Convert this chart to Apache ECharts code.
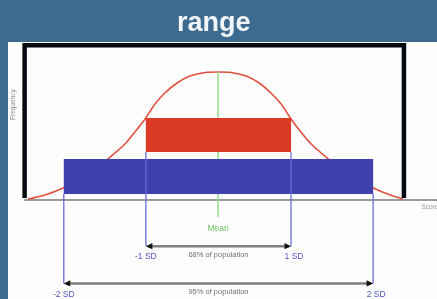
<!DOCTYPE html>
<html>
<head>
<meta charset="utf-8">
<script src="https://cdn.jsdelivr.net/npm/echarts@6/dist/echarts.min.js"></script>
<style>
  html, body { margin: 0; padding: 0; background: #3d6b8f; }
  #chart { width: 437px; height: 299px; }
</style>
</head>
<body>
<div id="chart"></div>
<script>
// bell curve (score 0..100, frequency 0..100)
const curveX = [0.8, 5.3, 10.0, 14.5, 18.4, 22.4, 26.3, 28.9, 31.6, 34.2, 36.8, 40.0, 43.4, 47.4, 50.8, 54.2, 58.2, 61.6, 64.7, 67.4, 70.0, 72.6, 75.3, 79.2, 83.2, 87.1, 91.6, 96.1, 99.5]
const curveY = [0.3, 2.9, 7.4, 13.2, 19.6, 27.3, 35.7, 43.4, 51.8, 61.4, 68.5, 74.9, 79.4, 81.7, 82.0, 81.7, 79.4, 74.9, 68.5, 61.4, 51.8, 43.4, 35.7, 27.3, 19.6, 13.2, 7.4, 2.9, 0.3]

// the two ranges: +-1 SD and +-2 SD
const rangeNames = ['68% of population', '95% of population']
const rangeLo = [31.8, 10.2]
const rangeHi = [70.0, 91.6]
const barBottom = [30.5, 3.5]
const barTop = [52.4, 26.0]
const arrowY = [-30, -54]
const sdLow = ['-1 SD', '-2 SD']
const sdHigh = ['1 SD', '2 SD']

// mean marker
const meanX = 50.8
const meanTop = 82
const meanBottom = -11.3

// box drawn round the plot
const frameX = [-0.1, -0.1, 99.7, 99.7]
const frameY = [1, 99.2, 99.2, 1]

// loose notes
const noteText = ['Mean', 'Frequency', 'Score']
const noteX = [50.8, -3, 104.3]
const noteY = [-18.6, 61, -5]

const barColors = ['#db3a24', '#3e40ad']
const noteStyle = [
  { fill: '#6cc45c', fontSize: 8.5, rotation: 0, align: 'center' },
  { fill: '#888', fontSize: 6.5, rotation: Math.PI / 2, align: 'center' },
  { fill: '#999', fontSize: 6.5, rotation: 0, align: 'left' }
]

const chart = echarts.init(document.getElementById('chart'))

const option = {
  backgroundColor: '#3d6b8f',
  animation: false,
  title: {
    text: 'range',
    left: 172,
    top: 5,
    textStyle: { color: '#f2f5f8', fontSize: 27, fontWeight: 'bold', fontFamily: 'Liberation Sans' }
  },
  graphic: [
    { type: 'rect', z: -10, shape: { x: 8, y: 42, width: 429, height: 257 }, style: { fill: '#fdfdfd' } }
  ],
  grid: { left: 25, right: 0, top: 44, bottom: 0 },
  xAxis: {
    type: 'value',
    min: 0,
    max: 108.4,
    axisLine: { onZero: true, lineStyle: { color: '#9a9a9a', width: 2 } },
    axisTick: { show: false },
    axisLabel: { show: false },
    splitLine: { show: false }
  },
  yAxis: {
    type: 'value',
    min: -64,
    max: 100,
    show: false,
    splitLine: { show: false }
  },
  series: [
    {
      type: 'line',
      data: curveX.map((x, i) => [x, curveY[i]]),
      smooth: 0.3,
      symbol: 'none',
      lineStyle: { color: '#e0503f', width: 1.6 },
      z: 1
    },
    {
      type: 'line',
      data: [[meanX, meanTop], [meanX, meanBottom]],
      symbol: 'none',
      lineStyle: { color: '#92de86', width: 1.5 },
      z: 1
    },
    {
      type: 'line',
      data: frameX.map((x, i) => [x, frameY[i]]),
      symbol: 'none',
      lineStyle: { color: '#050a10', width: 4.5, join: 'miter' },
      z: 3
    },
    {
      // range bars
      type: 'custom',
      z: 2,
      data: rangeLo.map((lo, i) => [lo, rangeHi[i], barBottom[i], barTop[i]]),
      renderItem: (params, api) => {
        const a = api.coord([api.value(0), api.value(3)])
        const b = api.coord([api.value(1), api.value(2)])
        return {
          type: 'rect',
          shape: { x: a[0], y: a[1], width: b[0] - a[0], height: b[1] - a[1] },
          style: { fill: barColors[params.dataIndex] }
        }
      }
    },
    {
      // drop lines, arrows and their labels
      type: 'custom',
      z: 4,
      data: rangeLo.map((lo, i) => [lo, rangeHi[i], barBottom[i], arrowY[i]]),
      renderItem: (params, api) => {
        const i = params.dataIndex
        const lt = api.coord([api.value(0), api.value(2)])
        const lb = api.coord([api.value(0), api.value(3)])
        const rt = api.coord([api.value(1), api.value(2)])
        const rb = api.coord([api.value(1), api.value(3)])
        const y = lb[1]
        const blue = { stroke: '#6468d6', lineWidth: 1.5, opacity: 0.85 }
        const head = 5
        const sdFont = { fill: '#5558c4', fontSize: 8.5, fontFamily: 'Liberation Sans', align: 'center', verticalAlign: 'middle' }
        return {
          type: 'group',
          children: [
            { type: 'line', shape: { x1: lt[0], y1: lt[1], x2: lb[0], y2: lb[1] }, style: blue },
            { type: 'line', shape: { x1: rt[0], y1: rt[1], x2: rb[0], y2: rb[1] }, style: blue },
            { type: 'line', shape: { x1: lb[0] + 2, y1: y, x2: rb[0] - 2, y2: y }, style: { stroke: '#808080', lineWidth: 2.5 } },
            { type: 'polygon', shape: { points: [[lb[0], y], [lb[0] + head * 1.3, y - head / 1.6], [lb[0] + head * 1.3, y + head / 1.6]] }, style: { fill: '#111' } },
            { type: 'polygon', shape: { points: [[rb[0], y], [rb[0] - head * 1.3, y - head / 1.6], [rb[0] - head * 1.3, y + head / 1.6]] }, style: { fill: '#111' } },
            { type: 'text', x: lb[0], y: y + 11, style: Object.assign({ text: sdLow[i] }, sdFont) },
            { type: 'text', x: rb[0] + 3, y: y + 11, style: Object.assign({ text: sdHigh[i] }, sdFont) },
            { type: 'text', x: (lb[0] + rb[0]) / 2, y: y + 8.5, style: { text: rangeNames[i], fill: '#707070', fontSize: 7.5, fontFamily: 'Liberation Sans', align: 'center', verticalAlign: 'middle' } }
          ]
        }
      }
    },
    {
      // loose labels
      type: 'custom',
      z: 4,
      data: noteX.map((x, i) => [x, noteY[i]]),
      renderItem: (params, api) => {
        const i = params.dataIndex
        const p = api.coord([api.value(0), api.value(1)])
        const s = noteStyle[i]
        return {
          type: 'text',
          x: p[0],
          y: p[1],
          rotation: s.rotation,
          style: {
            text: noteText[i],
            fill: s.fill,
            fontSize: s.fontSize,
            fontFamily: 'Liberation Sans',
            align: s.align,
            verticalAlign: 'middle'
          }
        }
      }
    }
  ]
}

chart.setOption(option)
</script>
</body>
</html>
